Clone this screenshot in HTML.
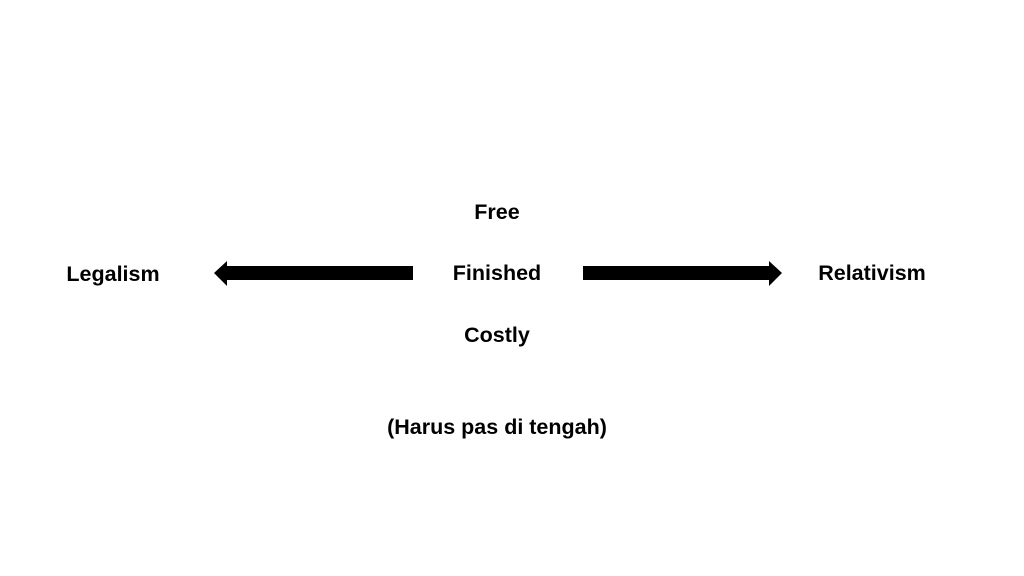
<!DOCTYPE html>
<html><head><style>
body{margin:0;width:1024px;height:576px;background:#fff;position:relative;overflow:hidden;font-family:"Liberation Sans",sans-serif;font-weight:bold;color:#000}
.t{position:absolute;font-size:21.5px;line-height:26px;white-space:nowrap;transform:translateX(-50%)}
</style></head><body>
<div class="t" style="left:497px;top:199px">Free</div>
<div class="t" style="left:497px;top:260px">Finished</div>
<div class="t" style="left:497px;top:322px">Costly</div>
<div class="t" style="left:113px;top:261px">Legalism</div>
<div class="t" style="left:872px;top:260px">Relativism</div>
<div class="t" style="left:497px;top:414px">(Harus pas di tengah)</div>
<svg width="1024" height="576" style="position:absolute;left:0;top:0">
<polygon points="214,273 227,261 227,266 413,266 413,280 227,280 227,286" fill="#000"/>
<polygon points="782,273 769,261 769,266 583,266 583,280 769,280 769,286" fill="#000"/>
</svg>
</body></html>
